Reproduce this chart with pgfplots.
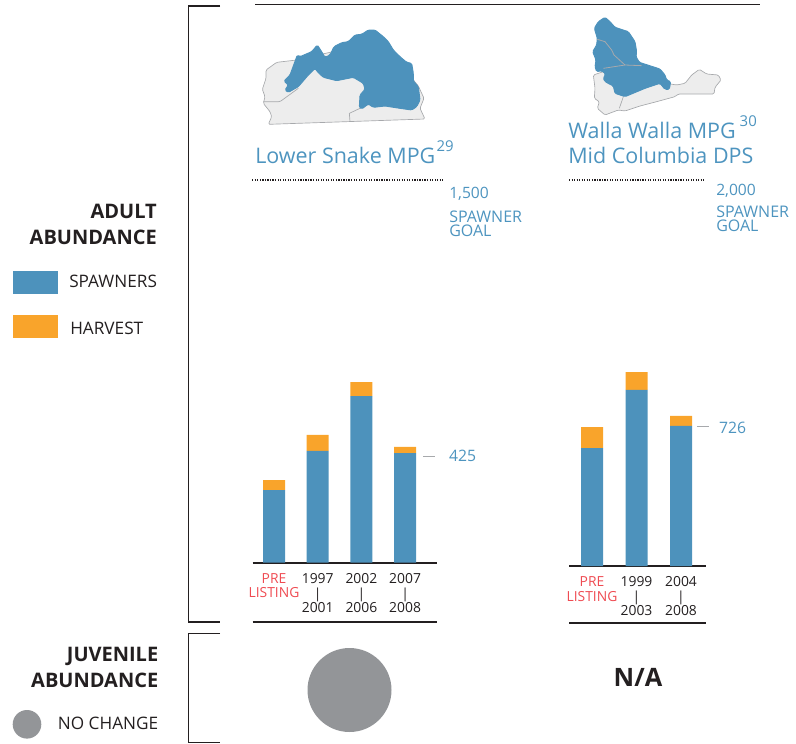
\documentclass[border=0pt]{standalone}
\usepackage{fontspec}
\setmainfont{Open Sans}
\usepackage{pgfplots}
\pgfplotsset{compat=1.18}

\definecolor{spawn}{HTML}{4D92BC}
\definecolor{harv}{HTML}{F9A42B}
\definecolor{titleblue}{HTML}{4D94BF}
\definecolor{prered}{HTML}{EF4B52}
\definecolor{circ}{HTML}{939598}
\definecolor{land}{HTML}{EDEDED}
\definecolor{landline}{HTML}{A7A9AC}
\definecolor{ink}{HTML}{231F20}

\newcommand{\fs}[1]{\fontsize{#1}{#1}\selectfont}
\newcommand{\sups}[1]{\raisebox{8.8pt}{\fs{11.2}#1}}

\pgfplotsset{
  stackbars/.style={
    scale only axis,
    anchor=south west,
    ybar stacked,
    bar width=16.5pt,
    ymin=0,
    clip=false,
    axis y line=none,
    axis x line=bottom,
    x axis line style={-,line width=1.4pt,color=ink},
    xtick=data,
    xtick style={draw=none},
    major tick length=0pt,
    xticklabel style={align=center,anchor=north,yshift=-4.6pt,
      font=\fontsize{10.4}{10.9}\selectfont,text=ink},
    enlargelimits=false,
  },
}

\begin{document}
\begin{tikzpicture}[x=0.75pt,y=-0.75pt]
\path[use as bounding box] (0,0) rectangle (796,743);

% brackets and rules
\draw[ink,line width=1pt] (220,6) -- (188.7,6) -- (188.7,622) -- (220,622);
\draw[ink,line width=1pt] (220,633.3) -- (188.7,633.3) -- (188.7,742.3) -- (220,742.3);
\draw[ink,line width=1pt] (255,4.5) -- (760,4.5);
\draw[ink,line width=1.3pt] (252.7,621.7) -- (437,621.7);
\draw[ink,line width=1.3pt] (569,623) -- (705.5,623);

% left panel
\node[anchor=base east,inner sep=0pt,font=\bfseries\fs{15},text=ink] at (157,218.5) {ADULT};
\node[anchor=base east,inner sep=0pt,font=\bfseries\fs{15},text=ink] at (157,244) {ABUNDANCE};
\fill[spawn] (13,271) rectangle (58,294);
\fill[harv] (13,315) rectangle (58,338);
\node[anchor=base west,inner sep=0pt,font=\fs{12.9},text=ink] at (69,287) {SPAWNERS};
\node[anchor=base west,inner sep=0pt,font=\fs{12.9},text=ink] at (70,334) {HARVEST};
\node[anchor=base east,inner sep=0pt,font=\bfseries\fs{15},text=ink] at (158.5,661) {JUVENILE};
\node[anchor=base east,inner sep=0pt,font=\bfseries\fs{15},text=ink] at (158.5,687.7) {ABUNDANCE};
\fill[circ] (27,724.3) circle (14.3);
\node[anchor=base east,inner sep=0pt,font=\fs{12.9},text=ink] at (158.5,729) {NO CHANGE};
\fill[circ] (349.5,690) circle (42);
\node[font=\bfseries\fs{19},text=ink] at (638,677) {N/A};

% Lower Snake map
\begin{scope}[shift={(180pt,0pt)},x=0.25pt,y=-0.25pt]
\filldraw[fill=land,draw=landline,line width=0.5pt,line join=round,rounded corners=1pt]
  (170,180)--(110,187)--(78,210)--(78,235)--(67,268)--(75,290)--(70,310)--(90,335)--(95,350)--(85,373)
  --(555,357)--(540,325)--(552,295)--(535,258)--(520,240)--(500,200)--(300,150)--cycle;
\draw[landline,line width=0.5pt,rounded corners=1pt] (70,305)--(120,305)--(175,265);
\draw[landline,line width=0.5pt] (330,365)--(328,340)--(360,325);
\filldraw[fill=spawn,draw=spawn,line width=0.7pt,line join=round,rounded corners=1pt]
  (172,165)--(180,170)--(215,155)--(232,135)--(245,155)--(255,172)--(270,165)--(282,140)--(305,128)
  --(325,125)--(345,105)--(365,103)--(385,90)--(405,90)--(430,110)--(445,125)--(460,150)--(480,170)
  --(500,187)--(515,190)--(520,220)--(520,243)--(535,260)--(540,300)--(530,320)--(515,330)--(480,325)
  --(435,318)--(400,322)--(385,312)--(365,327)--(358,322)--(360,285)--(375,268)--(370,250)--(340,232)
  --(290,242)--(250,232)--(232,215)--(225,205)--(205,225)--(175,260)--(145,277)--(135,270)--(145,255)
  --(132,243)--(150,225)--cycle;
\end{scope}

% Walla Walla map
\begin{scope}[shift={(420pt,0pt)},x=0.25pt,y=-0.25pt]
\filldraw[fill=land,draw=landline,line width=0.5pt,line join=round,rounded corners=1pt]
  (100,225)--(105,265)--(103,295)--(118,305)--(112,325)--(135,345)--(175,330)--(195,333)--(240,318)
  --(290,305)--(345,290)--(355,282)--(462,282)--(465,262)--(483,240)--(475,225)--(440,222)--(418,208)
  --(395,225)--(375,250)--(350,255)--(320,250)--(200,240)--(130,215)--cycle;
\draw[landline,line width=0.5pt] (190,290)--(178,325);
\filldraw[fill=spawn,draw=spawn,line width=0.7pt,line join=round,rounded corners=1pt]
  (135,52)--(150,65)--(165,82)--(205,95)--(225,125)--(230,155)--(228,170)--(238,187)--(300,207)
  --(315,225)--(320,240)--(332,245)--(328,268)--(315,268)--(300,250)--(255,265)--(195,290)--(165,280)
  --(160,258)--(135,245)--(130,235)--(137,222)--(125,212)--(110,215)--(105,200)--(108,180)--(98,155)
  --(110,135)--(112,115)--(103,85)--(115,65)--cycle;
\draw[landline,line width=0.6pt] (112,118)--(135,125)--(155,150)--(162,165)--(195,195);
\draw[landline,line width=0.6pt] (130,205)--(195,195)--(245,197);
\end{scope}

% titles
\node[anchor=base west,inner sep=0pt,font=\fs{16.1},text=titleblue] at (255,163.5) {Lower Snake MPG\kern1pt\sups{29}};
\node[anchor=base west,inner sep=0pt,font=\fs{16.1},text=titleblue] at (568,138.2) {Walla Walla MPG\kern3pt\sups{30}};
\node[anchor=base west,inner sep=0pt,font=\fs{16.1},text=titleblue] at (568,163.2) {Mid Columbia DPS};

% goal labels
\node[anchor=base west,inner sep=0pt,font=\fs{11.7},text=titleblue] at (449,198.5) {1,500};
\node[anchor=base west,inner sep=0pt,font=\fs{12},text=titleblue] at (449,222) {SPAWNER};
\node[anchor=base west,inner sep=0pt,font=\fs{12},text=titleblue] at (449,236.5) {GOAL};
\node[anchor=base west,inner sep=0pt,font=\fs{11.7},text=titleblue] at (716,195.7) {2,000};
\node[anchor=base west,inner sep=0pt,font=\fs{12},text=titleblue] at (716,217) {SPAWNER};
\node[anchor=base west,inner sep=0pt,font=\fs{12},text=titleblue] at (716,231.7) {GOAL};

% Lower Snake bars
\begin{axis}[stackbars,
    at={(252.7*0.75pt,-562.7*0.75pt)},
    width=138.2pt,height=287pt,
    xmin=-0.488,xmax=3.73,ymax=1500,
    xticklabels={{\textcolor{prered}{PRE}\\\textcolor{prered}{LISTING}},{1997\\|\\2001},{2002\\|\\2006},{2007\\|\\2008}}]
\addplot[fill=spawn,draw=none] coordinates {(0,285) (1,438) (2,653) (3,430)};
\addplot[fill=harv,draw=none] coordinates {(0,39) (1,63) (2,55) (3,24)};
\end{axis}
\begin{axis}[scale only axis,anchor=south west,
    at={(252.7*0.75pt,-562.7*0.75pt)},
    width=138.2pt,height=287pt,
    xmin=-0.488,xmax=3.73,ymin=0,ymax=1500,clip=false,
    axis lines=none]
\addplot[ink,densely dotted,line width=0.9pt] coordinates {(-0.5,1500) (3.86,1500)};
\addplot[landline,line width=0.8pt] coordinates {(3.42,417) (3.69,417)};
\node[anchor=west,inner sep=0pt,font=\fs{11.8},text=titleblue] at (axis cs:4.0,420) {425};
\end{axis}

% Walla Walla bars
\begin{axis}[stackbars,
    at={(569*0.75pt,-566*0.75pt)},
    width=102.4pt,height=289.5pt,
    xmin=-0.517,xmax=2.55,ymax=2000,
    xticklabels={{\textcolor{prered}{PRE}\\\textcolor{prered}{LISTING}},{1999\\|\\2003},{2004\\|\\2008}}]
\addplot[fill=spawn,draw=none] coordinates {(0,611) (1,912) (2,726)};
\addplot[fill=harv,draw=none] coordinates {(0,109) (1,93) (2,52)};
\end{axis}
\begin{axis}[scale only axis,anchor=south west,
    at={(569*0.75pt,-566*0.75pt)},
    width=102.4pt,height=289.5pt,
    xmin=-0.517,xmax=2.55,ymin=0,ymax=2000,clip=false,
    axis lines=none]
\addplot[ink,densely dotted,line width=0.9pt] coordinates {(-0.517,2000) (2.55,2000)};
\addplot[landline,line width=0.8pt] coordinates {(2.36,722) (2.63,722)};
\node[anchor=west,inner sep=0pt,font=\fs{11.8},text=titleblue] at (axis cs:2.85,715) {726};
\end{axis}
\end{tikzpicture}
\end{document}
